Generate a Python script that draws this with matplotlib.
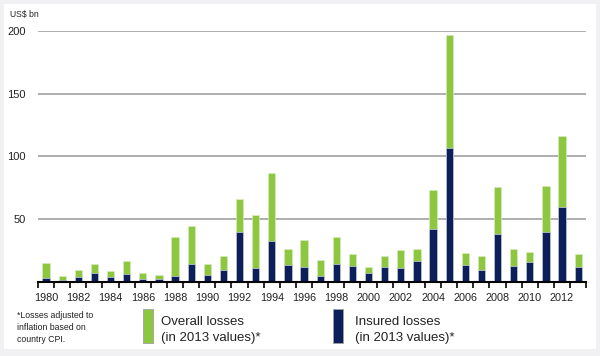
import numpy as np
import matplotlib.pyplot as plt
from matplotlib.patches import Rectangle

plt.rcParams['font.family'] = ['Liberation Sans', 'DejaVu Sans']

years = list(range(1980, 2014))
overall = [15, 4.5, 9.6, 14, 8.8, 16.5, 7.2, 5.9, 36, 45,
           14, 20.5, 66, 53, 86.7, 26, 33.3, 17.3, 36, 22,
           12.3, 20.5, 25.6, 26, 73, 197, 23, 20.5, 75.5, 26,
           24, 76.8, 116, 22]
insured = [3.2, 1.9, 4, 7.5, 4, 6.7, 2.7, 2.7, 4.8, 14.4,
           5.6, 9.9, 40, 11, 32.3, 13.3, 12.3, 4.8, 14.4, 13,
           7.5, 12.3, 11, 16.8, 42, 107, 13.4, 9.9, 38.4, 12.5,
           15.7, 40, 59.5, 12.3]
y_ticks = [50, 100, 150, 200]

green = '#8dc63f'
navy = '#0c1f5b'

fig = plt.figure(figsize=(6, 3.56), dpi=100)
fig.patch.set_facecolor('#f1f1f3')
fig.patches.append(Rectangle((0.006, 0.02), 0.988, 0.97, transform=fig.transFigure,
                             facecolor='white', edgecolor='none', zorder=-5))

ax = fig.add_axes([0.0633, 0.2079, 0.9137, 0.7051])
ax.set_zorder(2)
ax.set_facecolor('none')
x = np.arange(len(years))
ax.bar(x, overall, width=0.45, color=green, edgecolor='#d9ecbf', linewidth=0.5, zorder=3)
ax.bar(x, insured, width=0.45, color=navy, edgecolor='#c9cfe0', linewidth=0.5, zorder=4)

ax.set_xlim(-0.5, len(years) - 0.5)
ax.set_ylim(0, 200)
ax.set_yticks(y_ticks)
ax.set_yticklabels([str(v) for v in y_ticks], fontsize=8, color='#222222')
ax.tick_params(axis='y', length=0, pad=9)
for v in y_ticks:
    ax.axhline(v, color='#999999', linewidth=1.1, zorder=1)

ax.set_xticks(x[::2])
ax.set_xticklabels([str(y) for y in years[::2]], fontsize=7.8, color='#222222')
ax.set_xticks(np.arange(-0.5, len(years), 1), minor=True)
ax.tick_params(axis='x', which='major', length=0, pad=8)
ax.tick_params(axis='x', which='minor', length=4, width=1.2, color='black', direction='out')

for s in ['top', 'right', 'left']:
    ax.spines[s].set_visible(False)
ax.spines['bottom'].set_linewidth(1.5)
ax.spines['bottom'].set_zorder(5)

fig.text(10 / 600, 1 - 14 / 356, 'US$ bn', fontsize=6.2, color='#222222', va='center')

fig.text(17 / 600, 1 - 327.5 / 356, '*Losses adjusted to\ninflation based on\ncountry CPI.',
         fontsize=6.3, color='#222222', va='center', linespacing=1.45)

fig.patches.append(Rectangle((143 / 600, 1 - 343 / 356), 10 / 600, 34 / 356,
                             transform=fig.transFigure, facecolor=green,
                             edgecolor='#a0a0a0', linewidth=0.6))
fig.text(161 / 600, 1 - 330 / 356, 'Overall losses\n(in 2013 values)*',
         fontsize=9.5, color='#222222', va='center', linespacing=1.35)

fig.patches.append(Rectangle((333 / 600, 1 - 343 / 356), 10 / 600, 34 / 356,
                             transform=fig.transFigure, facecolor=navy,
                             edgecolor='#a0a0a0', linewidth=0.6))
fig.text(355 / 600, 1 - 330 / 356, 'Insured losses\n(in 2013 values)*',
         fontsize=9.5, color='#222222', va='center', linespacing=1.35)

fig.savefig('out.png', dpi=100, facecolor=fig.get_facecolor())
